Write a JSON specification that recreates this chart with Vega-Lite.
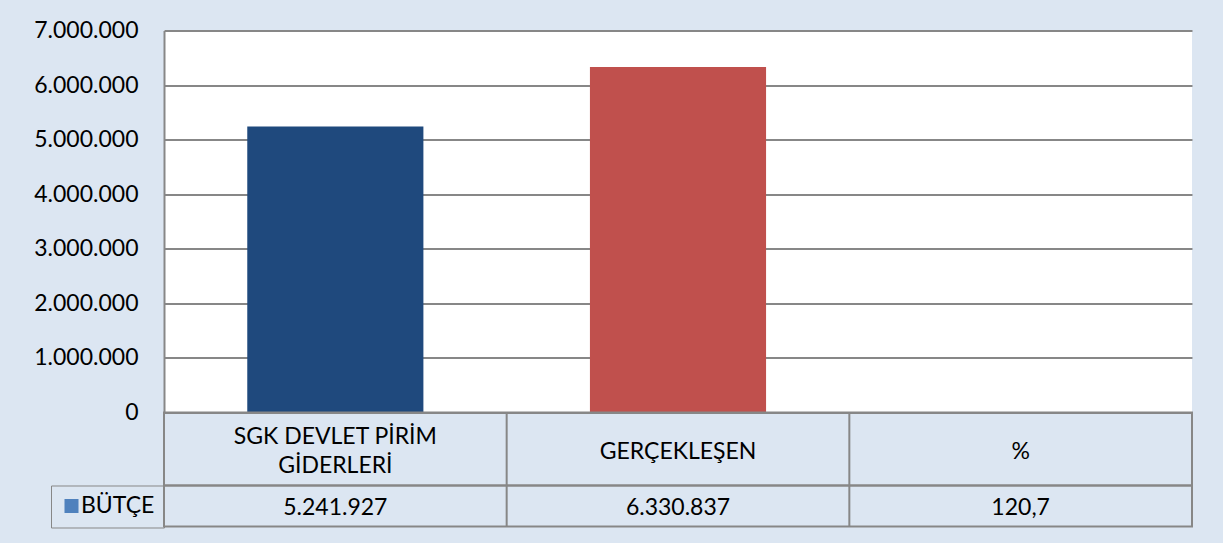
{
  "$schema": "https://vega.github.io/schema/vega-lite/v6.json",
  "background": "#dce6f2",
  "padding": {"left": 33, "top": 19.5, "right": 31, "bottom": 14},
  "bounds": "flush",
  "spacing": 0,
  "resolve": {"scale": {"color": "independent"}, "legend": {"color": "independent"}},
  "data": {
    "values": [
      {"cat": "SGK DEVLET PİRİM\nGİDERLERİ", "value": 5241927, "series": "BÜTÇE"},
      {"cat": "GERÇEKLEŞEN", "value": 6330837, "series": "BÜTÇE"},
      {"cat": "%", "value": 120.7, "series": "BÜTÇE"}
    ]
  },
  "vconcat": [
    {
      "width": 1028,
      "height": 382,
      "view": {"fill": "white", "stroke": null},
      "mark": {"type": "bar", "width": {"band": 0.514}},
      "encoding": {
        "x": {"field": "cat", "type": "nominal", "sort": null, "axis": null},
        "y": {
          "field": "value",
          "type": "quantitative",
          "scale": {"domain": [0, 7000000], "nice": false},
          "axis": {
            "title": null,
            "values": [0, 1000000, 2000000, 3000000, 4000000, 5000000, 6000000, 7000000],
            "format": ",.0f",
            "ticks": false,
            "labelPadding": 26,
            "labelFont": "Lato",
            "labelFontSize": 23,
            "labelColor": "black",
            "domainColor": "#878787",
            "domainWidth": 2,
            "grid": true,
            "gridColor": "#878787",
            "gridWidth": 2
          }
        },
        "color": {
          "field": "cat",
          "type": "nominal",
          "sort": null,
          "scale": {"range": ["#1f497d", "#c0504d", "#9bbb59"]},
          "legend": null
        }
      }
    },
    {
      "width": 1028,
      "height": 73,
      "view": {"stroke": "#878787", "strokeWidth": 2, "fill": null},
      "layer": [
        {
          "mark": {"type": "rule", "color": "#878787", "strokeWidth": 2},
          "encoding": {"x": {"field": "cat", "type": "nominal", "sort": null, "bandPosition": 0, "axis": null}}
        },
        {
          "transform": [{"filter": {"field": "cat", "equal": "SGK DEVLET PİRİM\nGİDERLERİ"}}],
          "mark": {"type": "text", "font": "Lato", "fontSize": 23, "lineBreak": "\n", "lineHeight": 29, "dy": -12.5, "color": "black"},
          "encoding": {
            "x": {"field": "cat", "type": "nominal", "sort": null, "axis": null},
            "text": {"field": "cat"}
          }
        },
        {
          "transform": [{"filter": {"not": {"field": "cat", "equal": "SGK DEVLET PİRİM\nGİDERLERİ"}}}],
          "mark": {"type": "text", "font": "Lato", "fontSize": 23, "color": "black", "dy": 2.5},
          "encoding": {
            "x": {"field": "cat", "type": "nominal", "sort": null, "axis": null},
            "text": {"field": "cat"}
          }
        }
      ]
    },
    {
      "width": 1028,
      "height": 41,
      "view": {"stroke": "#878787", "strokeWidth": 2, "fill": null},
      "layer": [
        {
          "mark": {"type": "rule", "color": "#878787", "strokeWidth": 2},
          "encoding": {"x": {"field": "cat", "type": "nominal", "sort": null, "bandPosition": 0, "axis": null}}
        },
        {
          "mark": {"type": "text", "font": "Lato", "fontSize": 23, "color": "black", "dy": 1.5},
          "encoding": {
            "x": {"field": "cat", "type": "nominal", "sort": null, "axis": null},
            "text": {"field": "value", "type": "quantitative", "format": ",.1~f"}
          }
        },
        {
          "mark": {"type": "point", "shape": "square", "filled": true, "size": 0},
          "encoding": {
            "x": {"field": "cat", "type": "nominal", "sort": null, "axis": null},
            "color": {
              "field": "series",
              "type": "nominal",
              "scale": {"range": ["#4f81bd"]},
              "legend": {
                "title": null,
                "orient": "left",
                "offset": 0,
                "padding": 9,
                "strokeColor": "#878787",
                "labelFont": "Lato",
                "labelFontSize": 23,
                "labelColor": "black",
                "labelOffset": -2,
                "symbolType": "square",
                "symbolSize": 196,
                "symbolStrokeWidth": 0,
                "symbolOpacity": 1
              }
            }
          }
        }
      ]
    }
  ],
  "config": {
    "locale": {"number": {"decimal": ",", "thousands": ".", "grouping": [3], "currency": ["", " TL"]}},
    "scale": {"bandPaddingInner": 0, "bandPaddingOuter": 0},
    "font": "Lato"
  }
}
